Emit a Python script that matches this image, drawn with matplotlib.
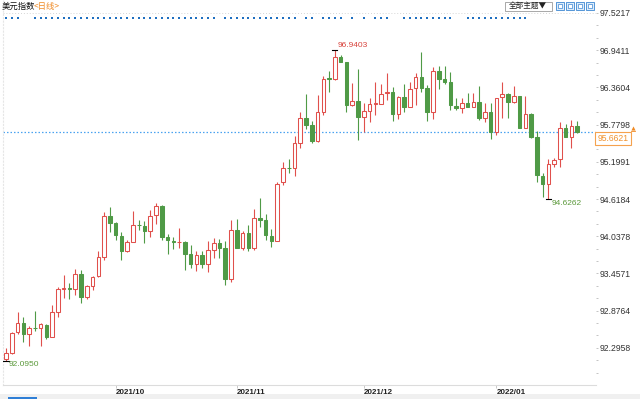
import matplotlib.pyplot as plt
from matplotlib.patches import Rectangle
import numpy as np
import pandas as pd

plt.rcParams['font.family'] = ['Liberation Sans', 'Noto Sans CJK SC', 'DejaVu Sans']
CJK = ['Noto Sans CJK SC', 'DejaVu Sans']

# daily candles, Sep 6 2021 .. Jan 21 2022 (business days)
dates = pd.bdate_range('2021-09-06', periods=100)
opens = [92.12, 92.21, 92.54, 92.69, 92.51, 92.61, 92.61, 92.65, 92.47, 92.86,
         93.21, 93.23, 93.21, 93.45, 93.09, 93.26, 93.41, 93.72, 94.35, 94.24,
         94.04, 93.80, 93.95, 94.22, 94.20, 94.12, 94.37, 94.51, 94.03, 93.96,
         93.94, 93.95, 93.76, 93.60, 93.74, 93.61, 93.83, 93.93, 93.85, 93.37,
         94.13, 93.86, 94.09, 93.85, 94.32, 94.29, 94.04, 93.97, 94.88, 95.11,
         95.10, 95.50, 95.88, 95.77, 95.53, 95.97, 96.50, 96.49, 96.83, 96.75,
         96.09, 96.15, 95.90, 95.99, 96.10, 96.10, 96.27, 96.29, 95.95, 96.21,
         96.06, 96.35, 96.52, 96.35, 95.98, 96.62, 96.49, 96.44, 96.07, 96.04,
         96.11, 96.05, 96.13, 95.88, 95.97, 95.66, 96.21, 96.25, 96.14, 96.23,
         95.73, 95.95, 95.59, 94.98, 94.86, 95.17, 95.24, 95.73, 95.59, 95.76]
highs = [92.30, 92.55, 92.85, 92.77, 92.64, 92.87, 92.68, 92.67, 92.96, 93.24,
         93.44, 93.30, 93.52, 93.51, 93.27, 93.42, 93.81, 94.42, 94.50, 94.26,
         94.11, 93.98, 94.43, 94.29, 94.28, 94.45, 94.55, 94.52, 94.07, 94.03,
         94.16, 93.96, 93.90, 93.80, 93.80, 93.96, 94.01, 94.00, 93.96, 94.29,
         94.31, 94.12, 94.21, 94.46, 94.63, 94.38, 94.15, 94.89, 95.19, 95.25,
         95.60, 95.97, 96.26, 95.84, 96.24, 96.54, 96.61, 96.9403, 96.87, 96.76,
         96.43, 96.64, 96.12, 96.20, 96.45, 96.41, 96.59, 96.37, 96.23, 96.41,
         96.45, 96.58, 96.91, 96.40, 96.68, 96.69, 96.69, 96.60, 96.19, 96.19,
         96.27, 96.27, 96.39, 96.11, 96.11, 96.19, 96.45, 96.28, 96.38, 96.23,
         96.23, 95.96, 95.68, 95.02, 95.25, 95.26, 95.82, 95.79, 95.85, 95.84]
lows = [92.095, 92.20, 92.51, 92.38, 92.33, 92.56, 92.33, 92.44, 92.46, 92.77,
        93.07, 93.06, 93.12, 92.99, 93.06, 93.20, 93.40, 93.67, 94.11, 93.98,
        93.67, 93.79, 93.95, 94.13, 93.93, 94.03, 94.23, 93.98, 93.76, 93.84,
        93.85, 93.51, 93.54, 93.50, 93.54, 93.48, 93.69, 93.69, 93.27, 93.33,
        93.86, 93.82, 93.81, 93.82, 94.18, 93.98, 93.87, 93.96, 94.83, 95.02,
        94.97, 95.41, 95.71, 95.50, 95.51, 95.93, 96.29, 96.48, 96.75, 95.98,
        96.07, 95.54, 95.67, 95.82, 95.93, 96.10, 96.16, 95.84, 95.86, 95.97,
        96.05, 96.09, 96.29, 95.84, 95.87, 96.33, 96.42, 96.01, 96.01, 95.96,
        96.05, 96.05, 95.85, 95.82, 95.55, 95.61, 95.89, 95.89, 96.11, 95.72,
        95.72, 95.57, 94.89, 94.65, 94.6262, 95.12, 95.12, 95.58, 95.41, 95.65]
closes = [92.21, 92.53, 92.69, 92.51, 92.60, 92.60, 92.66, 92.47, 92.85, 93.21,
          93.23, 93.21, 93.45, 93.09, 93.26, 93.40, 93.71, 94.35, 94.24, 94.06,
          93.80, 93.95, 94.21, 94.21, 94.12, 94.35, 94.51, 94.03, 93.98, 93.94,
          93.95, 93.76, 93.60, 93.74, 93.60, 93.82, 93.93, 93.85, 93.37, 94.13,
          93.86, 94.09, 93.85, 94.32, 94.29, 94.05, 93.97, 94.86, 95.11, 95.10,
          95.49, 95.88, 95.77, 95.53, 95.97, 96.49, 96.49, 96.83, 96.76, 96.09,
          96.15, 95.90, 95.99, 96.10, 96.11, 96.26, 96.29, 95.95, 96.21, 96.06,
          96.33, 96.52, 96.35, 95.98, 96.62, 96.49, 96.45, 96.09, 96.04, 96.11,
          96.05, 96.13, 95.89, 95.97, 95.66, 96.19, 96.25, 96.14, 96.23, 95.73,
          95.95, 95.59, 94.99, 94.86, 95.16, 95.22, 95.73, 95.59, 95.76, 95.6621]
yticks = [97.5217, 96.9411, 96.3604, 95.7798, 95.1991,
          94.6184, 94.0378, 93.4571, 92.8764, 92.2958]
last_price = 95.6621
# candles (1-based) that carry an event marker in the top row
event_days = ([1, 2, 3] + list(range(6, 38)) + list(range(39, 52)) + [53, 54, 56, 57, 58, 59, 61, 63, 65, 66, 67]
              + list(range(70, 79)) + list(range(81, 92)))

RED = '#e0504c'
GREEN = '#4f9a46'
W, H = 640, 399

fig = plt.figure(figsize=(W / 100, H / 100), dpi=100)
ax = fig.add_axes([3 / W, 14 / H, 593 / W, 385 / H])

O, Hi, Lo, C = map(np.array, (opens, highs, lows, closes))
x = np.arange(len(O))
up = C >= O
cols = np.where(up, RED, GREEN)
face = np.where(up, 'white', GREEN)

ax.vlines(x, Lo, Hi, colors=cols, lw=0.8, zorder=2)
ax.bar(x, np.maximum(np.abs(C - O), 0.008), bottom=np.minimum(O, C), width=0.62,
       color=face, edgecolor=cols, linewidth=0.75, zorder=3)

ax.set_xlim(-0.52, 102.25)
ax.set_ylim(91.7155, 97.7246)

# reference lines
ax.axhline(yticks[0], color='#d6d6d6', ls=(0, (1, 2)), lw=0.7, zorder=1)
ax.axhline(last_price, color='#4aa3f0', ls=(0, (1.2, 1.6)), lw=0.9, zorder=1)

# event dots
ev = np.array(event_days) - 1
ax.scatter(ev, np.full(len(ev), 1 - 18 / 385), s=2.8, marker='s', color='#1f6fc0',
           transform=ax.get_xaxis_transform(), linewidths=0, zorder=4, clip_on=False)

# y axis on the right
ax.yaxis.tick_right()
ax.set_yticks(yticks)
ax.set_yticklabels([f'{v:.4f}' for v in yticks])
step = (yticks[0] - yticks[1]) / 3
minor = [v + k * step for v in yticks for k in (1, 2) if v + k * step < 97.7]
minor += [yticks[-1] - step, yticks[-1] - 2 * step]
ax.set_yticks(minor, minor=True)
ax.tick_params(axis='y', which='both', length=1.5, width=0.7, color='#c4c4c4',
               pad=1, labelsize=6.2, labelcolor='#333333')

# month ticks
mpos = np.where(dates.month[1:] != dates.month[:-1])[0] + 1
ax.set_xticks(mpos)
ax.set_xticklabels([dates[i].strftime('%Y/%m') for i in mpos], ha='left', fontweight='bold')
ax.tick_params(axis='x', length=2.2, width=0.7, color='#c8c8c8', pad=0.5,
               labelsize=5.8, labelcolor='#222222')

for s in ('top', 'right'):
    ax.spines[s].set_visible(False)
ax.spines['bottom'].set_color('#dcdcdc')
ax.spines['bottom'].set_linewidth(0.8)
ax.spines['left'].set_color('#e6e6e6')
ax.spines['left'].set_linestyle((0, (1, 2)))

# extreme labels
hi_i = int(np.argmax(Hi))
lo_i = int(np.argmin(Lo))
lo2_i = hi_i + int(np.argmin(Lo[hi_i:]))
for i, val, dy, col in [(hi_i, Hi[hi_i], 4.7, '#d8433c'),
                        (lo_i, Lo[lo_i], -4.2, '#5c9a3c'),
                        (lo2_i, Lo[lo2_i], -4.7, '#5c9a3c')]:
    ax.plot([i - 0.45, i + 0.45], [val, val], color='black', lw=0.8, zorder=5)
    ax.annotate(f'{val:.4f}', xy=(i, val), xytext=(3, dy), textcoords='offset pixels',
                ha='left', va='center', color=col, fontsize=6, zorder=6)

# current price box
ax.annotate(f'{last_price:.4f}', xy=(1, last_price), xycoords=('axes fraction', 'data'),
            xytext=(1.5, -6.4), textcoords='offset pixels', ha='left', va='center',
            color='#f0922f', fontsize=6.2, annotation_clip=False, zorder=7,
            bbox=dict(boxstyle='square,pad=0.25', fc='white', ec='#f5a24e', lw=0.8))

# decorations in pixel space
ov = fig.add_axes([0, 0, 1, 1], zorder=5)
ov.set_xlim(0, W)
ov.set_ylim(H, 0)
ov.axis('off')
ov.patch.set_alpha(0)

ov.text(2, 6.5, '美元指数', family=CJK, fontsize=6, va='center', ha='left', color='#111111')
ov.text(33.5, 6.5, '<日线>', family=CJK, fontsize=6, va='center', ha='left', color='#f08a24')

ov.add_patch(Rectangle((504.5, 1.5), 47, 9, fc='white', ec='#9a9a9a', lw=0.6))
ov.text(528, 6, '全部主题▼', family=CJK, fontsize=5.5, va='center', ha='center', color='#222222')
for bx in (555, 565, 575, 585):
    ov.add_patch(Rectangle((bx + 0.5, 1.5), 8.5, 8.5, fc='#dcecfb', ec='#3b86d2', lw=0.6))
    ov.add_patch(Rectangle((bx + 3, 4), 3.5, 3.5, fc='white', ec='#3b86d2', lw=0.5))

ov.plot([633], [128.3], marker='^', ms=3, color='#f08a24', mew=0)
ov.plot([630.8, 635.2], [130.8, 130.8], color='#f08a24', lw=0.6)

ov.add_patch(Rectangle((0, 394), W, 5, fc='#f0f0f0', ec='none'))
ov.add_patch(Rectangle((8, 396.5), 29, 2.5, fc='#2f7fd6', ec='none'))

fig.savefig('out.png', dpi=100)
